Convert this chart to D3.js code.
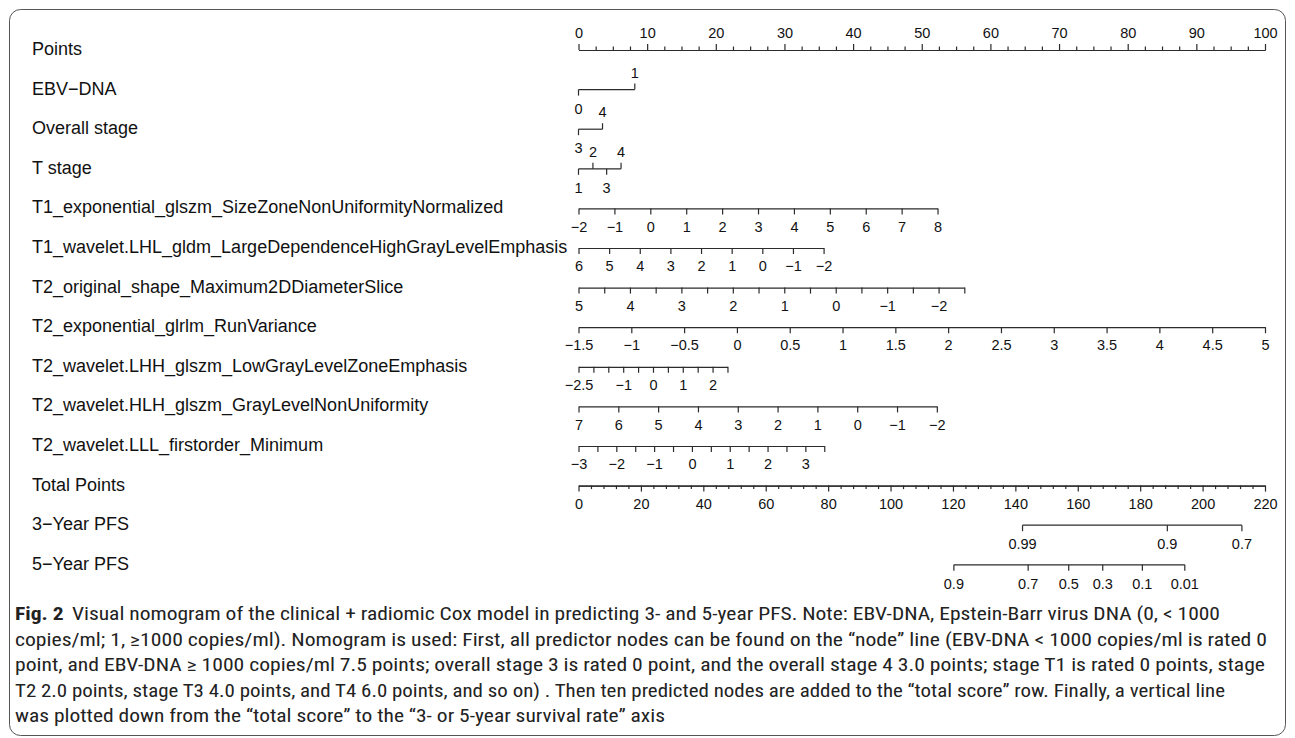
<!DOCTYPE html>
<html><head><meta charset="utf-8">
<script src="https://cdn.jsdelivr.net/npm/d3@7"></script>
<style>body{margin:0;background:#fff} svg{display:block}</style>
</head><body><svg id="c" width="1295" height="738"></svg>
<script>
// ---------------- DATA ----------------
const rowLabels = ["Points","EBV\u2212DNA","Overall stage","T stage",
  "T1_exponential_glszm_SizeZoneNonUniformityNormalized",
  "T1_wavelet.LHL_gldm_LargeDependenceHighGrayLevelEmphasis",
  "T2_original_shape_Maximum2DDiameterSlice",
  "T2_exponential_glrlm_RunVariance",
  "T2_wavelet.LHH_glszm_LowGrayLevelZoneEmphasis",
  "T2_wavelet.HLH_glszm_GrayLevelNonUniformity",
  "T2_wavelet.LLL_firstorder_Minimum",
  "Total Points","3\u2212Year PFS","5\u2212Year PFS"];

const pointsLabels = [0,10,20,30,40,50,60,70,80,90,100];
const pointsMinorStep = 2.5;

// categorical predictors: level labels and their points
const ebvLevels = ["0","1"];            const ebvPoints = [0, 8.2];
const overallLevels = ["3","4"];        const overallPoints = [0, 3.5];
const tLevels = ["1","2","3","4"];      const tPoints = [0, 2.1, 4.1, 6.2];

// continuous predictors: [value at 0 points, value at max], max points, ticks, labelled ticks
const t1ExpRange = [-2, 8];     const t1ExpMax = 52.3;
const t1ExpTicks = [-2,-1,0,1,2,3,4,5,6,7,8];
const t1ExpLabels = [-2,-1,0,1,2,3,4,5,6,7,8];

const t1WavRange = [6, -2];     const t1WavMax = 35.7;
const t1WavTicks = [6,5,4,3,2,1,0,-1,-2];
const t1WavLabels = [6,5,4,3,2,1,0,-1,-2];

const t2OrigRange = [5, -2.5];  const t2OrigMax = 56.2;
const t2OrigTicks = [5,4.5,4,3.5,3,2.5,2,1.5,1,0.5,0,-0.5,-1,-1.5,-2,-2.5];
const t2OrigLabels = [5,4,3,2,1,0,-1,-2];

const t2ExpRange = [-1.5, 5];   const t2ExpMax = 100;
const t2ExpTicks = [-1.5,-1,-0.5,0,0.5,1,1.5,2,2.5,3,3.5,4,4.5,5];
const t2ExpLabels = [-1.5,-1,-0.5,0,0.5,1,1.5,2,2.5,3,3.5,4,4.5,5];

const lhhRange = [-2.5, 2.5];   const lhhMax = 21.7;
const lhhTicks = [-2.5,-2,-1.5,-1,-0.5,0,0.5,1,1.5,2,2.5];
const lhhLabels = [-2.5,-1,0,1,2];

const hlhRange = [7, -2];       const hlhMax = 52.2;
const hlhTicks = [7,6,5,4,3,2,1,0,-1,-2];
const hlhLabels = [7,6,5,4,3,2,1,0,-1,-2];

const lllRange = [-3, 3.5];     const lllMax = 35.8;
const lllTicks = [-3,-2.5,-2,-1.5,-1,-0.5,0,0.5,1,1.5,2,2.5,3,3.5];
const lllLabels = [-3,-2,-1,0,1,2,3];

const totalLabels = [0,20,40,60,80,100,120,140,160,180,200,220];
const totalMinorStep = 4;
const totalMax = 220;

const pfs3Labels = ["0.99","0.9","0.7"];                 const pfs3Total = [142.3, 188.7, 212.6];
const pfs5Labels = ["0.9","0.7","0.5","0.3","0.1","0.01"]; const pfs5Total = [120.3, 144.1, 157.1, 168.0, 180.7, 194.3];

const captionLines = [
  "Visual nomogram of the clinical + radiomic Cox model in predicting 3- and 5-year PFS. Note: EBV-DNA, Epstein-Barr virus DNA (0, < 1000",
  "copies/ml; 1, \u22651000 copies/ml). Nomogram is used: First, all predictor nodes can be found on the \u201cnode\u201d line (EBV-DNA < 1000 copies/ml is rated 0",
  "point, and EBV-DNA \u2265 1000 copies/ml 7.5 points; overall stage 3 is rated 0 point, and the overall stage 4 3.0 points; stage T1 is rated 0 points, stage",
  "T2 2.0 points, stage T3 4.0 points, and T4 6.0 points, and so on) . Then ten predicted nodes are added to the \u201ctotal score\u201d row. Finally, a vertical line",
  "was plotted down from the \u201ctotal score\u201d to the \u201c3- or 5-year survival rate\u201d axis"
];

// ---------------- LAYOUT ----------------
const X0 = 578.5, X1 = 1265;
const rowY0 = 50, rowStep = 39.6;
const ink = "#2b2b2b";
const tickFont = 14.5, rowFont = 18;
const FONT = "'Liberation Sans', Arial, Helvetica, sans-serif";

const svg = d3.select("#c");
svg.append("rect").attr("x",9.5).attr("y",9.5).attr("width",1276).attr("height",726)
  .attr("rx",11).attr("fill","none").attr("stroke","#555").attr("stroke-width",1);

const xPts = d3.scaleLinear().domain([0,100]).range([X0,X1]);
const xTot = d3.scaleLinear().domain([0,totalMax]).range([X0,X1]);
const rowY = i => rowY0 + i*rowStep;
const fmt = d => (d<0 ? "\u2212" : "") + Math.abs(d);

// row labels
svg.append("g").selectAll("text").data(rowLabels).join("text")
  .attr("x",32).attr("y",(d,i)=>rowY(i)+5)
  .attr("font-family",FONT).attr("font-size",rowFont).attr("fill","#111")
  .text(d=>d);

function styleAxis(g){
  g.attr("font-family",FONT).attr("font-size",tickFont).attr("color",ink);
  g.selectAll("path,line").attr("stroke-width",1.2);
  g.selectAll("text").attr("fill","#111");
}

// Points axis (top)
{
  const minor = d3.range(0, 100 + 1e-9, pointsMinorStep).filter(v => !pointsLabels.includes(v));
  const gMinor = svg.append("g").attr("transform",`translate(0,${rowY(0)})`)
    .call(d3.axisTop(xPts).tickValues(minor).tickSize(3.5).tickSizeOuter(0).tickFormat(""));
  styleAxis(gMinor);
  const g = svg.append("g").attr("transform",`translate(0,${rowY(0)})`)
    .call(d3.axisTop(xPts).tickValues(pointsLabels).tickSize(6).tickSizeOuter(0).tickPadding(6).tickFormat(d=>d));
  styleAxis(g);
}

// categorical rows
function catRow(i, levels, pts){
  const y = rowY(i);
  const g = svg.append("g").attr("transform",`translate(0,${y})`);
  g.append("line").attr("x1",xPts(d3.min(pts))).attr("x2",xPts(d3.max(pts)))
    .attr("stroke",ink).attr("stroke-width",1.2);
  levels.forEach((lv,k)=>{
    const above = k % 2 === 1;
    const x = xPts(pts[k]);
    g.append("line").attr("x1",x).attr("x2",x).attr("y1",0).attr("y2",above?-6:6)
      .attr("stroke",ink).attr("stroke-width",1.2);
    g.append("text").attr("x",x).attr("y",above?-12:24)
      .attr("text-anchor","middle").attr("font-family",FONT).attr("font-size",tickFont)
      .attr("fill","#111").text(lv);
  });
}
catRow(1, ebvLevels, ebvPoints);
catRow(2, overallLevels, overallPoints);
catRow(3, tLevels, tPoints);

// continuous rows
function contRow(i, range, maxPts, ticks, labels){
  const s = d3.scaleLinear().domain(range).range([xPts(0), xPts(maxPts)]);
  const g = svg.append("g").attr("transform",`translate(0,${rowY(i)})`)
    .call(d3.axisBottom(s).tickValues(ticks).tickSize(6).tickSizeOuter(0).tickPadding(7)
      .tickFormat(d => labels.includes(d) ? fmt(d) : ""));
  styleAxis(g);
}
contRow(4, t1ExpRange, t1ExpMax, t1ExpTicks, t1ExpLabels);
contRow(5, t1WavRange, t1WavMax, t1WavTicks, t1WavLabels);
contRow(6, t2OrigRange, t2OrigMax, t2OrigTicks, t2OrigLabels);
contRow(7, t2ExpRange, t2ExpMax, t2ExpTicks, t2ExpLabels);
contRow(8, lhhRange, lhhMax, lhhTicks, lhhLabels);
contRow(9, hlhRange, hlhMax, hlhTicks, hlhLabels);
contRow(10, lllRange, lllMax, lllTicks, lllLabels);

// Total points
{
  const minor = d3.range(0, totalMax + 1e-9, totalMinorStep).filter(v => !totalLabels.includes(v));
  const gMinor = svg.append("g").attr("transform",`translate(0,${rowY(11)})`)
    .call(d3.axisBottom(xTot).tickValues(minor).tickSize(3.5).tickSizeOuter(0).tickFormat(""));
  styleAxis(gMinor);
  const g = svg.append("g").attr("transform",`translate(0,${rowY(11)})`)
    .call(d3.axisBottom(xTot).tickValues(totalLabels).tickSize(6).tickSizeOuter(0).tickPadding(7).tickFormat(d=>d));
  styleAxis(g);
}

// PFS rows
function pfsRow(i, labels, totals){
  const s = d3.scaleOrdinal().domain(labels).range(totals.map(xTot));
  const g = svg.append("g").attr("transform",`translate(0,${rowY(i)})`);
  g.append("line").attr("x1",xTot(d3.min(totals))).attr("x2",xTot(d3.max(totals)))
    .attr("stroke",ink).attr("stroke-width",1.2);
  g.selectAll("line.t").data(labels).join("line").attr("class","t")
    .attr("x1",d=>s(d)).attr("x2",d=>s(d)).attr("y1",0).attr("y2",6)
    .attr("stroke",ink).attr("stroke-width",1.2);
  g.selectAll("text").data(labels).join("text")
    .attr("x",d=>s(d)).attr("y",24).attr("text-anchor","middle")
    .attr("font-family",FONT).attr("font-size",tickFont).attr("fill","#111").text(d=>d);
}
pfsRow(12, pfs3Labels, pfs3Total);
pfsRow(13, pfs5Labels, pfs5Total);

// caption
const capFont = "'Liberation Sans Narrow','Roboto Condensed',Roboto,'Open Sans',sans-serif";
const capWidths = [1205, 1252, 1250, 1210, 650];
const capBase = 620, capStep = 25.5;
captionLines.forEach((line,k)=>{
  const t = svg.append("text").attr("x",15).attr("y",capBase + k*capStep)
    .attr("font-family",capFont).attr("font-size",18).attr("fill","#222")
    .attr("textLength",capWidths[k]).attr("lengthAdjust","spacingAndGlyphs");
  if (k === 0){
    t.append("tspan").attr("font-weight","bold").text("Fig. 2");
    t.append("tspan").attr("dx",7).text(line);
  } else {
    t.text(line);
  }
});
</script></body></html>
